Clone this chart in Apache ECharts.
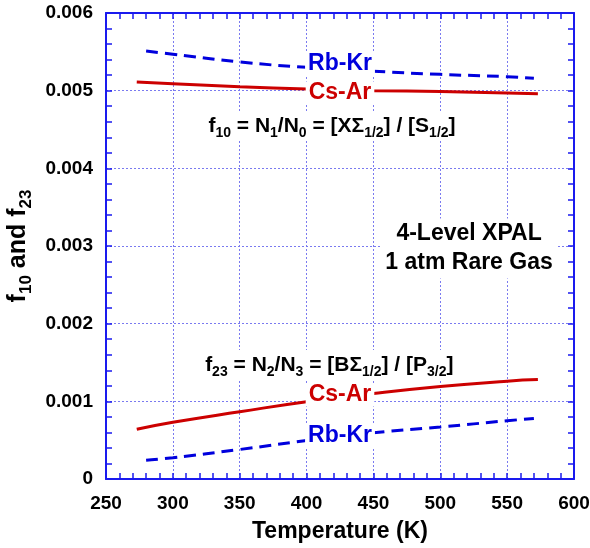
<!DOCTYPE html>
<html><head><meta charset="utf-8">
<script src="https://cdn.jsdelivr.net/npm/echarts@6/dist/echarts.min.js"></script>
<style>html,body{margin:0;padding:0;background:#fff}#c{width:590px;height:548px}</style>
</head><body><div id="c"></div>
<script>
// ---- data ----
var xTicks = [250, 300, 350, 400, 450, 500, 550, 600];
var yTicks = [0, 0.001, 0.002, 0.003, 0.004, 0.005, 0.006];

var csArUpperT = [273, 300, 350, 400, 450, 500, 550, 573];
var csArUpperF = [0.00511, 0.00509, 0.00505, 0.00502, 0.00500, 0.00499, 0.00497, 0.00496];
var rbKrUpperT = [280, 300, 350, 400, 450, 500, 550, 570];
var rbKrUpperF = [0.00551, 0.00547, 0.00537, 0.00530, 0.00525, 0.00521, 0.00518, 0.00516];
var csArLowerT = [273, 300, 350, 400, 450, 500, 550, 573];
var csArLowerF = [0.00064, 0.00073, 0.000866, 0.000995, 0.00110, 0.00119, 0.00126, 0.00128];
var rbKrLowerT = [280, 300, 350, 400, 450, 500, 550, 570];
var rbKrLowerF = [0.00024, 0.000274, 0.00038, 0.000495, 0.000595, 0.00067, 0.00075, 0.00078];

// annotation anchors (data coordinates) and texts
var labelT = [425, 425, 425, 425];
var labelF = [0.00535, 0.00497, 0.001082, 0.000554];
var labelText = ['Rb-Kr', 'Cs-Ar', 'Cs-Ar', 'Rb-Kr'];
var labelKind = ['rb', 'cs', 'cs', 'rb'];

var noteT = [419, 417, 521.5];
var noteF = [0.004545, 0.001468, 0.002968];
var noteText = [
  'f{s|10} = N{s|1}/N{s|0} = [X\u03A3{s|1/2}] / [S{s|1/2}]',
  'f{s|23} = N{s|2}/N{s|3} = [B\u03A3{s|1/2}] / [P{s|3/2}]',
  '4-Level XPAL\n1 atm Rare Gas'
];

// ---- chart ----
var FONT = '"Liberation Sans", Arial, Helvetica, sans-serif';
var AX = '#1a1aee';
function zip(a, b) { return a.map(function (v, i) { return [v, b[i]]; }); }

var chart = echarts.init(document.getElementById('c'), null, {renderer: 'canvas'});

var tickCommon = {show: true, inside: true, length: 6, lineStyle: {color: AX, width: 1.5}};
var minorCommon = {show: true, splitNumber: 5, length: 6, lineStyle: {color: AX, width: 1.5}};
var axisLineCommon = {show: true, onZero: false, lineStyle: {color: AX, width: 2}};
var gridLine = {show: true, lineStyle: {color: '#7a7af0', width: 1, type: [2, 2]}};
var labelCommon = {color: '#000', fontFamily: FONT, fontWeight: 'bold', fontSize: 19};

var option = {
  animation: false,
  backgroundColor: '#fff',
  grid: {left: 106, right: 16, top: 13, bottom: 69, containLabel: false, outerBoundsMode: 'none'},
  xAxis: [{
    type: 'value', min: xTicks[0], max: xTicks[xTicks.length - 1], interval: 50,
    axisLine: axisLineCommon, axisTick: tickCommon, minorTick: minorCommon,
    splitLine: gridLine,
    axisLabel: Object.assign({margin: 15}, labelCommon),
    name: 'Temperature (K)', nameLocation: 'middle', nameGap: 41,
    nameTextStyle: {color: '#000', fontFamily: FONT, fontWeight: 'bold', fontSize: 23, lineHeight: 24}
  }, {
    type: 'value', position: 'top', min: xTicks[0], max: xTicks[xTicks.length - 1], interval: 50,
    axisLine: axisLineCommon, axisTick: tickCommon, minorTick: minorCommon,
    splitLine: {show: false}, axisLabel: {show: false}
  }],
  yAxis: [{
    type: 'value', min: yTicks[0], max: yTicks[yTicks.length - 1], interval: 0.001,
    axisLine: axisLineCommon, axisTick: tickCommon, minorTick: minorCommon,
    splitLine: gridLine,
    axisLabel: Object.assign({margin: 13, formatter: function (v) { return v === 0 ? '0' : v.toFixed(3); }}, labelCommon),
    name: 'f{s|10} and f{s|23}', nameLocation: 'middle', nameGap: 64, nameRotate: 90,
    nameTextStyle: {
      color: '#000', fontFamily: FONT, fontWeight: 'bold', fontSize: 25, lineHeight: 32,
      rich: {s: {fontFamily: FONT, fontWeight: 'bold', fontSize: 17, lineHeight: 17, verticalAlign: 'bottom', color: '#000'}}
    }
  }, {
    type: 'value', position: 'right', min: yTicks[0], max: yTicks[yTicks.length - 1], interval: 0.001,
    axisLine: axisLineCommon, axisTick: tickCommon, minorTick: minorCommon,
    splitLine: {show: false}, axisLabel: {show: false}
  }],
  series: [
    {type: 'line', name: 'Rb-Kr f10', data: zip(rbKrUpperT, rbKrUpperF), showSymbol: false, smooth: true,
      lineStyle: {color: '#0000dd', width: 3, type: [12, 7]}, z: 2},
    {type: 'line', name: 'Cs-Ar f10', data: zip(csArUpperT, csArUpperF), showSymbol: false, smooth: true,
      lineStyle: {color: '#cc0000', width: 3}, z: 2},
    {type: 'line', name: 'Cs-Ar f23', data: zip(csArLowerT, csArLowerF), showSymbol: false, smooth: true,
      lineStyle: {color: '#cc0000', width: 3}, z: 2},
    {type: 'line', name: 'Rb-Kr f23', data: zip(rbKrLowerT, rbKrLowerF), showSymbol: false, smooth: true,
      lineStyle: {color: '#0000dd', width: 3, type: [12, 7]}, z: 2},
    {type: 'scatter', symbolSize: 0, z: 10, silent: true, itemStyle: {opacity: 1},
      data: labelT.map(function (t, i) { return {value: [t, labelF[i]], name: labelText[i]}; }),
      label: {show: true, position: 'inside', backgroundColor: '#fff', padding: [0, 3, 0, 3], opacity: 1,
        fontFamily: FONT, fontWeight: 'bold', fontSize: 23,
        formatter: function (p) { return '{' + labelKind[p.dataIndex] + '|' + p.name + '}'; },
        rich: {
          rb: {color: '#0000dd', fontFamily: FONT, fontWeight: 'bold', fontSize: 23},
          cs: {color: '#cc0000', fontFamily: FONT, fontWeight: 'bold', fontSize: 23}
        }}
    },
    {type: 'scatter', symbolSize: 0, z: 10, silent: true, itemStyle: {opacity: 1},
      data: noteT.map(function (t, i) { return {value: [t, noteF[i]], name: noteText[i]}; }),
      label: {show: true, position: 'inside', backgroundColor: '#fff', padding: [1, 4, 1, 4], opacity: 1,
        color: '#000', fontFamily: FONT, fontWeight: 'bold', fontSize: 21, lineHeight: 28, align: 'center',
        formatter: function (p) { return p.name; },
        rich: {s: {color: '#000', fontFamily: FONT, fontWeight: 'bold', fontSize: 14, lineHeight: 14, verticalAlign: 'bottom'}}
      }
    }
  ]
};
// bigger font for the XPAL note
option.series[5].data[2].label = {fontSize: 23, lineHeight: 29};
chart.setOption(option);
</script></body></html>
